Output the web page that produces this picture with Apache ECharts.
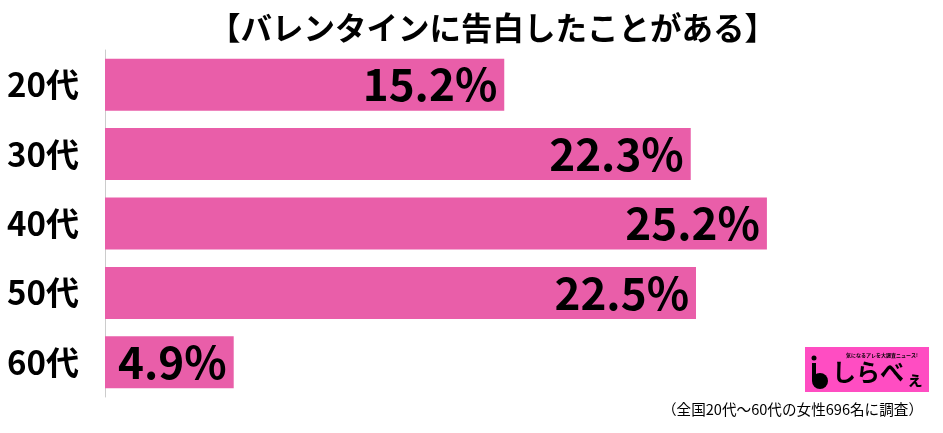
<!DOCTYPE html>
<html><head><meta charset="utf-8">
<script src="https://cdn.jsdelivr.net/npm/echarts@6/dist/echarts.min.js"></script>
<style>html,body{margin:0;padding:0;background:#fff}#c{width:943px;height:433px}</style>
</head><body><div id="c"></div>
<script>
const titleText = '【バレンタインに告白したことがある】';
const categories = ['20代','30代','40代','50代','60代'];
const values = [15.2, 22.3, 25.2, 22.5, 4.9];
const noteText = '（全国20代～60代の女性696名に調査）';

const chart = echarts.init(document.getElementById('c'));
chart.setOption({
  animation: false,
  title: {
    text: titleText, left: 204, top: 7,
    textStyle: {fontFamily: 'Noto Sans CJK JP', fontWeight: 'bold', fontSize: 31.5, color: '#000'}
  },
  grid: {left: 105, right: 50, top: 50, bottom: 36},
  xAxis: {type: 'value', min: 0, max: 30, show: false},
  yAxis: {
    type: 'category', data: categories, inverse: true,
    axisLine: {show: true, lineStyle: {color: '#cccccc', width: 1}},
    axisTick: {show: false},
    axisLabel: {margin: 26, color: '#000', fontFamily: 'Noto Sans CJK JP', fontWeight: 'bold', fontSize: 33}
  },
  series: [{
    type: 'bar', data: values, barWidth: 52,
    itemStyle: {color: '#e95ea9'},
    label: {
      show: true, position: 'insideRight', distance: 7,
      formatter: p => p.value.toFixed(1) + '%',
      color: '#000', fontFamily: 'Noto Sans CJK JP', fontWeight: 'bold', fontSize: 44
    }
  }],
  graphic: [
    {type: 'rect', left: 805, top: 347, shape: {width: 124, height: 45}, style: {fill: '#ff4dc2'}},
    {type: 'text', left: 846, top: 353, style: {text: '気になるアレを大調査ニュース!', fill: '#000', font: 'bold 5px "Noto Sans CJK JP"'}},
    {type: 'circle', shape: {cx: 820, cy: 381, r: 8}, style: {fill: '#000'}},
    {type: 'rect', left: 812, top: 363, shape: {width: 4, height: 18}, style: {fill: '#000'}},
    {type: 'circle', shape: {cx: 814, cy: 358, r: 2.5}, style: {fill: '#000'}},
    {type: 'text', left: 832, top: 360, style: {text: 'しらべ', fill: '#000', font: 'bold 24px "Noto Sans CJK JP"'}},
    {type: 'text', left: 906, top: 370, style: {text: 'ぇ', fill: '#000', font: 'bold 18px "Noto Sans CJK JP"'}},
    {type: 'text', right: 20, top: 402, style: {text: noteText, fill: '#000', font: '14.6px "Noto Sans CJK JP"'}}
  ]
});
</script></body></html>
